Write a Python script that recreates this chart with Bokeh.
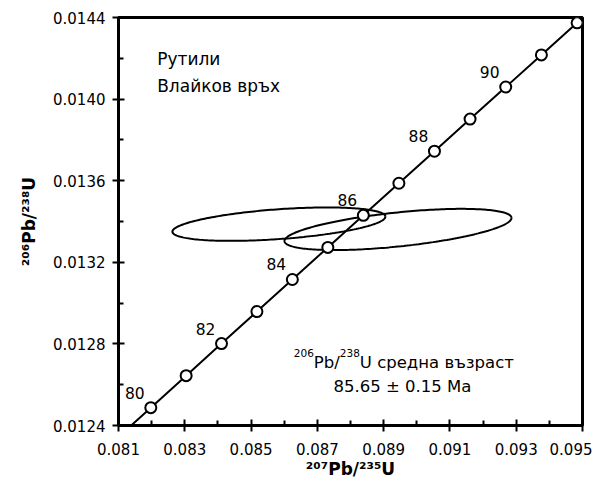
import numpy as np
from bokeh.plotting import figure
from bokeh.models import Label, FixedTicker, PrintfTickFormatter, Range1d, ColumnDataSource
from bokeh.embed import file_html
from bokeh.resources import INLINE
from bokeh.core.properties import value

# ---------------- data ----------------
# Concordia ages (Ma) and their isotope ratios
ages = [79, 80, 81, 82, 83, 84, 85, 86, 87, 88, 89, 90, 91, 92]
conc_pb207_u235 = [0.0809099, 0.0819750, 0.0830411, 0.0841082, 0.0851763, 0.0862456, 0.0873160,
                   0.0883873, 0.0894597, 0.0905333, 0.0916077, 0.0926833, 0.0937600, 0.0948377]
conc_pb206_u238 = [0.0123303, 0.0124873, 0.0126444, 0.0128015, 0.0129586, 0.0131158, 0.0132730,
                   0.0134301, 0.0135874, 0.0137446, 0.0139019, 0.0140592, 0.0142165, 0.0143738]
marker_ages = [80, 81, 82, 83, 84, 85, 86, 87, 88, 89, 90, 91, 92]
label_ages = [80, 82, 84, 86, 88, 90]

# Error ellipses: centre, half-extent and correlation
ell_x = [0.08584, 0.089433]
ell_sx = [0.0032135, 0.0034246]
ell_y = [0.013387, 0.013361]
ell_sy = [0.0000819, 0.000101]
ell_rho = [0.45, 0.56]

x_ticks = [0.081, 0.083, 0.085, 0.087, 0.089, 0.091, 0.093, 0.095]
x_minor = [0.082, 0.084, 0.086, 0.088, 0.090, 0.092, 0.094]
y_ticks = [0.0124, 0.0128, 0.0132, 0.0136, 0.0140, 0.0144]
y_minor = [0.0126, 0.0130, 0.0134, 0.0138, 0.0142]

x_title = "²⁰⁷Pb/²³⁵U"
y_title = "²⁰⁶Pb/²³⁸U"
title_lines = ["Рутили", "Влайков връх"]
result_line2 = "85.65 ± 0.15 Ma"

FONT = "DejaVu Sans"

# ---------------- figure ----------------
p = figure(width=592, height=481, output_backend="svg", toolbar_location=None,
           x_range=Range1d(0.081, 0.095), y_range=Range1d(0.0124, 0.0144),
           min_border_left=118, min_border_right=10, min_border_top=17, min_border_bottom=56)
p.background_fill_color = "white"
p.border_fill_color = "white"
p.xgrid.visible = False
p.ygrid.visible = False
p.outline_line_color = "black"
p.outline_line_width = 3

p.xaxis.ticker = FixedTicker(ticks=x_ticks, minor_ticks=x_minor)
p.yaxis.ticker = FixedTicker(ticks=y_ticks, minor_ticks=y_minor)
p.xaxis.formatter = PrintfTickFormatter(format="%.3f")
p.yaxis.formatter = PrintfTickFormatter(format="%.4f")
for ax in (p.xaxis, p.yaxis):
    ax.axis_line_width = 3
    ax.axis_line_color = "black"
    ax.major_tick_line_width = 2
    ax.major_tick_line_color = "black"
    ax.minor_tick_line_width = 2
    ax.minor_tick_line_color = "black"
    ax.major_tick_in = 6
    ax.major_tick_out = 6
    ax.minor_tick_in = 5
    ax.minor_tick_out = 0
    ax.major_label_text_font = FONT
    ax.major_label_text_font_size = "15px"
    ax.major_label_text_color = "black"
    ax.axis_label_text_font = FONT
    ax.axis_label_text_font_size = "17px"
    ax.axis_label_text_font_style = "bold"
    ax.axis_label_text_color = "black"
p.xaxis.axis_label = x_title
p.yaxis.axis_label = y_title
p.xaxis.major_label_standoff = 11
p.yaxis.major_label_standoff = 7
p.xaxis.axis_label_standoff = 1
p.yaxis.axis_label_standoff = 11

# ---------------- error ellipses ----------------
t = np.linspace(0, 2 * np.pi, 241)
exs, eys = [], []
for cx, sx, cy, sy, r in zip(ell_x, ell_sx, ell_y, ell_sy, ell_rho):
    exs.append(cx + sx * np.cos(t))
    eys.append(cy + sy * (r * np.cos(t) + np.sqrt(1 - r * r) * np.sin(t)))
p.multi_line(xs=exs, ys=eys, line_color="black", line_width=2)

# ---------------- concordia ----------------
p.line(conc_pb207_u235, conc_pb206_u238, line_color="black", line_width=2)
mx = [conc_pb207_u235[ages.index(a)] for a in marker_ages]
my = [conc_pb206_u238[ages.index(a)] for a in marker_ages]
p.scatter(mx, my, size=11, marker="circle", fill_color="white", line_color="black", line_width=2)

lsrc = ColumnDataSource(dict(
    x=[conc_pb207_u235[ages.index(a)] for a in label_ages],
    y=[conc_pb206_u238[ages.index(a)] for a in label_ages],
    t=[str(a) for a in label_ages]))
p.text(x="x", y="y", text="t", source=lsrc, x_offset=-16, y_offset=-15,
       text_align="center", text_baseline="middle", text_font=value(FONT),
       text_font_size="15.5px", text_color="black")

# ---------------- text helpers ----------------
REG = {c: 0.636 for c in "0123456789"}
REG.update({".": 0.318, "/": 0.337, " ": 0.318, "P": 0.603, "b": 0.635, "U": 0.732})


def text_width(s, size):
    return sum(REG.get(c, 0.6) for c in s) * size


def place(runs, x0, y0):
    pos = 0.0
    for txt, size, rise in runs:
        p.add_layout(Label(x=x0 + pos, y=y0 + rise, x_units="screen", y_units="screen", text=txt,
                           text_font=FONT, text_font_size=f"{size}px",
                           text_align="left", text_baseline="alphabetic", text_color="black"))
        pos += text_width(txt, size)
    return pos


# label coordinates are relative to the frame's bottom-left corner (frame 464 x 408 px)
for i, line in enumerate(title_lines):
    p.add_layout(Label(x=38.7, y=366.7 - 26.7 * i, x_units="screen", y_units="screen", text=line,
                       text_font=FONT, text_font_size="17px", text_baseline="alphabetic",
                       text_align="left", text_color="black"))

res_runs = [("206", 10.5, 9), ("Pb/", 16.5, 0), ("238", 10.5, 9), ("U средна възраст", 16.5, 0)]
w1 = place(res_runs, 175.3, 63.3)
p.add_layout(Label(x=175.3 + w1 / 2, y=39, x_units="screen", y_units="screen", text=result_line2,
                   text_font=FONT, text_font_size="16.5px", text_baseline="alphabetic",
                   text_align="center", text_color="black"))

open("out.html", "w").write(file_html(p, INLINE))
